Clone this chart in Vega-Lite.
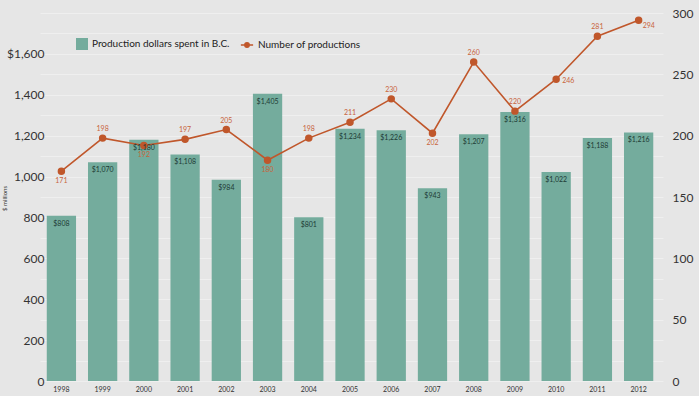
{
  "$schema": "https://vega.github.io/schema/vega-lite/v6.json",
  "width": 623,
  "height": 368,
  "autosize": {"type": "none"},
  "padding": {"left": 40, "top": 13, "right": 36, "bottom": 15},
  "background": "#e6e6e6",
  "config": {
    "view": {"stroke": null},
    "font": "Lato",
    "axis": {"domain": false, "ticks": false, "labelColor": "#333333", "title": null}
  },
  "data": {
    "values": [
      {"year": "1998", "dollars": 808, "productions": 171},
      {"year": "1999", "dollars": 1070, "productions": 198},
      {"year": "2000", "dollars": 1180, "productions": 192},
      {"year": "2001", "dollars": 1108, "productions": 197},
      {"year": "2002", "dollars": 984, "productions": 205},
      {"year": "2003", "dollars": 1405, "productions": 180},
      {"year": "2004", "dollars": 801, "productions": 198},
      {"year": "2005", "dollars": 1234, "productions": 211},
      {"year": "2006", "dollars": 1226, "productions": 230},
      {"year": "2007", "dollars": 943, "productions": 202},
      {"year": "2008", "dollars": 1207, "productions": 260},
      {"year": "2009", "dollars": 1316, "productions": 220},
      {"year": "2010", "dollars": 1022, "productions": 246},
      {"year": "2011", "dollars": 1188, "productions": 281},
      {"year": "2012", "dollars": 1216, "productions": 294}
    ]
  },
  "encoding": {
    "x": {
      "field": "year",
      "type": "ordinal",
      "scale": {"paddingInner": 0.29, "paddingOuter": 0.2, "align": 0.41},
      "axis": {"labelAngle": 0, "labelFontSize": 7, "labelPadding": 4, "grid": false, "title": null}
    }
  },
  "layer": [
    {
      "mark": {"type": "bar", "color": "#74ac9d"},
      "encoding": {
        "y": {
          "field": "dollars",
          "type": "quantitative",
          "scale": {"domain": [0, 1800], "nice": false},
          "axis": {
            "orient": "left",
            "values": [0, 100, 200, 300, 400, 500, 600, 700, 800, 900, 1000, 1100, 1200, 1300, 1400, 1500, 1600, 1700, 1800],
            "labelExpr": "datum.value % 200 != 0 || datum.value > 1600 ? '' : (datum.value == 1600 ? '$1,600' : format(datum.value, ','))",
            "labelFontSize": 12,
            "labelPadding": -4,
            "grid": true,
            "gridColor": "#efefef",
            "gridWidth": 1,
            "title": "$ millions",
            "titleFontSize": 6,
            "titleFontWeight": "normal",
            "titleColor": "#333333",
            "titleX": -33,
            "titleY": 185,
            "titleAngle": -90,
            "titleAlign": "center"
          }
        },
        "fill": {
          "datum": "Production dollars spent in B.C.",
          "scale": {"range": ["#74ac9d"]},
          "legend": {
            "orient": "none",
            "legendX": 36,
            "legendY": 25,
            "title": null,
            "symbolType": "square",
            "symbolSize": 144,
            "symbolStrokeWidth": 0,
            "labelFontSize": 10,
            "labelColor": "#222222",
            "padding": 0
          }
        }
      }
    },
    {
      "encoding": {
        "y": {
          "field": "productions",
          "type": "quantitative",
          "scale": {"domain": [0, 300], "nice": false},
          "axis": {
            "orient": "right",
            "values": [0, 50, 100, 150, 200, 250, 300],
            "labelFontSize": 12,
            "labelPadding": 9,
            "grid": false,
            "title": null
          }
        }
      },
      "layer": [
        {
          "mark": {"type": "line", "color": "#c0572b", "strokeWidth": 1.6, "point": {"filled": true, "size": 30, "color": "#c0572b"}},
          "encoding": {
            "stroke": {
              "datum": "Number of productions",
              "scale": {"range": ["#c0572b"]},
              "legend": {
                "orient": "none",
                "legendX": 200,
                "legendY": 25,
                "title": null,
                "symbolType": "M-1,0H1M0.35,0A0.35,0.35,0,1,1,-0.35,0A0.35,0.35,0,1,1,0.35,0",
                "symbolSize": 150,
                "symbolStrokeWidth": 1.6,
                "symbolFillColor": "#c0572b",
                "labelFontSize": 10,
                "labelColor": "#222222",
                "padding": 0
              }
            }
          }
        },
        {
          "transform": [{"filter": "indexof(['1998','2000','2003','2007','2010','2012'], datum.year) < 0"}],
          "mark": {"type": "text", "dy": -9, "fontSize": 7, "color": "#c8643c"},
          "encoding": {"text": {"field": "productions", "type": "quantitative"}}
        },
        {
          "transform": [{"filter": "indexof(['1998','2000','2003','2007'], datum.year) >= 0"}],
          "mark": {"type": "text", "dy": 10, "fontSize": 7, "color": "#c8643c"},
          "encoding": {"text": {"field": "productions", "type": "quantitative"}}
        },
        {
          "transform": [{"filter": "datum.year == '2010'"}],
          "mark": {"type": "text", "align": "left", "dx": 6, "dy": 2, "fontSize": 7, "color": "#c8643c"},
          "encoding": {"text": {"field": "productions", "type": "quantitative"}}
        },
        {
          "transform": [{"filter": "datum.year == '2012'"}],
          "mark": {"type": "text", "align": "left", "dx": 4, "dy": 6, "fontSize": 7, "color": "#c8643c"},
          "encoding": {"text": {"field": "productions", "type": "quantitative"}}
        }
      ]
    },
    {
      "mark": {"type": "text", "baseline": "top", "dy": 4, "fontSize": 7, "color": "#1e3b35"},
      "encoding": {
        "y": {"field": "dollars", "type": "quantitative", "scale": {"domain": [0, 1800], "nice": false}, "axis": null},
        "text": {"field": "dollars", "type": "quantitative", "format": "$,d"}
      }
    }
  ],
  "resolve": {"scale": {"y": "independent", "fill": "independent", "stroke": "independent"}}
}
